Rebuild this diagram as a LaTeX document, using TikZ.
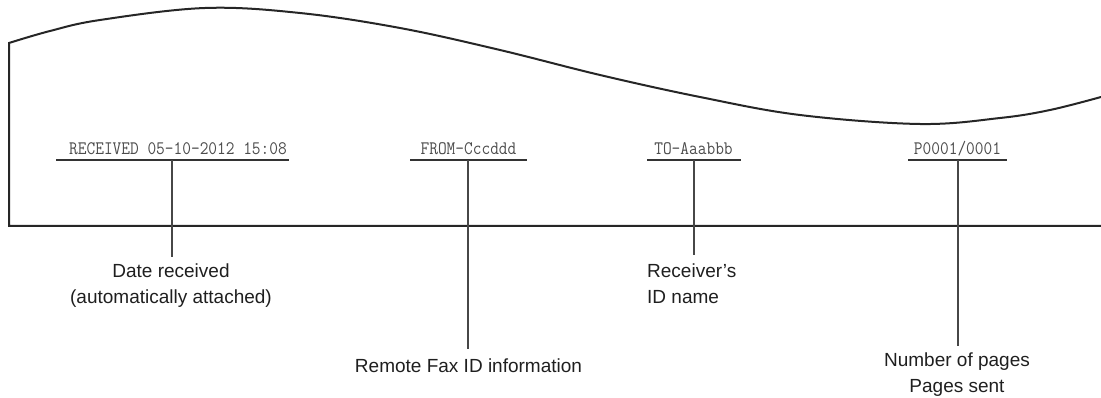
\documentclass[tikz,border=0pt]{standalone}
\usepackage{fontspec}
\usepackage{graphicx}
\setmainfont{Liberation Sans}
\newcommand\faxstr[1]{\scalebox{1}[1.13]{#1}}
\tikzset{
  frame/.style={line width=2pt, draw=black!85, line join=miter},
  leader/.style={line width=1.3pt, draw=black!72},
  uline/.style={line width=1.1pt, draw=black!80},
  faxtext/.style={font=\ttfamily\fontsize{16.9}{18}\selectfont, text=black!70, inner sep=0pt, anchor=base},
  desc/.style={font=\fontsize{19}{26}\selectfont, text=black!88, align=center, anchor=base, inner xsep=0pt},
}
\begin{document}
\begin{tikzpicture}[x=1pt,y=-1pt]
\useasboundingbox (0,0) rectangle (1101,398);
% paper edge
\draw[frame] plot[smooth, tension=0.6] coordinates {(1101,97) (1050,110) (1000,118) (920,124) (800,115) (700,97) (600,75) (500,50) (400,28) (300,13) (205,8) (100,20) (50,31) (9,43)} -- (9,226) -- (1101,226);
% header texts
\node[faxtext] (rcv) at (178,155) {\faxstr{RECEIVED 05-10-2012 15:08}};
\node[faxtext] (from) at (468.5,155) {\faxstr{FROM-Cccddd}};
\node[faxtext] (to) at (693.5,155) {\faxstr{TO-Aaabbb}};
\node[faxtext] (pg) at (957.5,155) {\faxstr{P0001/0001}};
% underlines
\coordinate (rcvL) at (56,160); \coordinate (rcvR) at (289,160); \coordinate (rcvM) at (172,160);
\coordinate (fromL) at (410,160); \coordinate (fromR) at (527,160); \coordinate (fromM) at (468,160);
\coordinate (toL) at (647,160); \coordinate (toR) at (741,160); \coordinate (toM) at (694,160);
\coordinate (pgL) at (908,160); \coordinate (pgR) at (1007,160); \coordinate (pgM) at (958,160);
\draw[uline] (rcvL) -- (rcvR);
\draw[uline] (fromL) -- (fromR);
\draw[uline] (toL) -- (toR);
\draw[uline] (pgL) -- (pgR);
% descriptions (base anchor of a multi-line node = last baseline)
\node[desc, inner ysep=6pt] (date) at (171,303) {Date received\\(automatically attached)};
\node[desc, inner ysep=9.4pt] (remote) at (468.5,372) {Remote Fax ID information};
\node[desc, align=left, anchor=base west, inner ysep=8.4pt] (recv) at (647,303) {Receiver’s\\ID name};
\node[desc, inner ysep=6.4pt] (num) at (957,392) {Number of pages\\Pages sent};
% leaders
\draw[leader] (rcvM) -- (rcvM |- date.north);
\draw[leader] (fromM) -- (fromM |- remote.north);
\draw[leader] (toM) -- (toM |- recv.north);
\draw[leader] (pgM) -- (pgM |- num.north);
\end{tikzpicture}
\end{document}
